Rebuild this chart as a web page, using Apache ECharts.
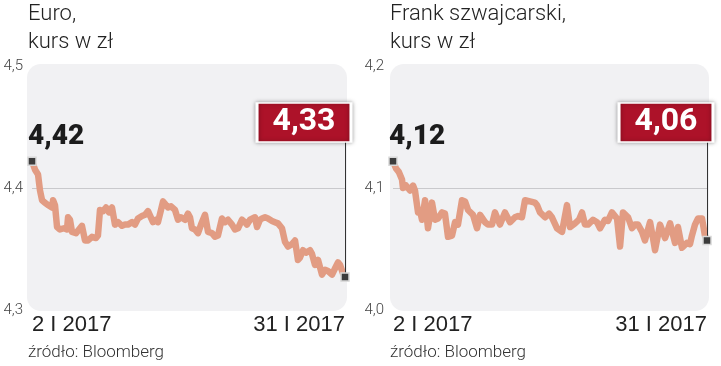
<!DOCTYPE html>
<html><head><meta charset="utf-8">
<script src="https://cdn.jsdelivr.net/npm/echarts@6/dist/echarts.min.js"></script>
<style>html,body{margin:0;padding:0;background:#fff}#c{width:721px;height:366px}</style>
</head><body><div id="c"></div>
<script>
const titles = ['Euro,\nkurs w zł', 'Frank szwajcarski,\nkurs w zł'];
const sourceText = 'źródło: Bloomberg';
const xLabels = ['2 I 2017', '31 I 2017'];
const dayRange = [2, 31];
const eurYRange = [4.3, 4.5];
const chfYRange = [4.0, 4.2];
const yInterval = 0.1;

const eurDays = [2.00,2.28,2.56,2.74,2.93,3.20,3.48,3.85,3.95,4.13,4.32,4.59,4.96,5.24,5.34,5.52,5.71,6.08,6.26,6.63,6.91,7.19,7.56,7.93,8.11,8.30,8.58,8.86,9.13,9.41,9.50,9.69,9.97,10.34,10.62,10.89,11.27,11.54,11.82,12.19,12.47,12.75,12.93,13.21,13.49,13.67,13.95,14.14,14.32,14.60,14.88,15.25,15.53,15.80,16.18,16.45,16.64,16.82,17.10,17.38,17.66,18.03,18.31,18.68,18.95,19.23,19.60,19.88,20.16,20.53,20.81,21.09,21.46,21.73,21.92,22.20,22.38,22.66,22.85,23.12,23.31,23.59,23.87,24.24,24.51,24.79,25.16,25.44,25.72,26.09,26.37,26.64,26.83,27.11,27.39,27.76,27.94,28.22,28.50,28.87,29.15,29.42,29.80,30.07,30.35,30.54,30.81,31.00];
const eurVals = [4.422,4.415,4.411,4.398,4.390,4.388,4.386,4.384,4.390,4.386,4.368,4.366,4.367,4.366,4.376,4.374,4.364,4.363,4.365,4.369,4.357,4.357,4.360,4.359,4.361,4.382,4.381,4.384,4.380,4.384,4.385,4.370,4.372,4.369,4.370,4.370,4.372,4.370,4.375,4.377,4.378,4.381,4.380,4.372,4.374,4.372,4.382,4.389,4.387,4.384,4.385,4.382,4.374,4.376,4.374,4.379,4.376,4.367,4.366,4.363,4.370,4.378,4.364,4.363,4.360,4.361,4.375,4.372,4.374,4.370,4.366,4.367,4.374,4.372,4.370,4.374,4.375,4.376,4.368,4.374,4.375,4.376,4.375,4.373,4.372,4.371,4.367,4.356,4.352,4.354,4.357,4.341,4.343,4.349,4.347,4.349,4.346,4.337,4.341,4.329,4.333,4.332,4.329,4.334,4.339,4.337,4.330,4.327];

const chfDays = [2.00,2.28,2.55,2.83,2.92,3.20,3.57,3.85,4.03,4.31,4.49,4.68,4.96,5.23,5.60,5.88,6.16,6.53,6.80,7.08,7.26,7.45,7.73,8.00,8.37,8.65,8.93,9.39,9.76,10.04,10.50,10.77,11.14,11.42,11.88,12.34,12.81,13.27,13.55,13.91,14.19,14.65,15.11,15.30,15.58,16.04,16.41,16.68,17.15,17.61,18.07,18.35,18.81,19.18,19.46,19.73,20.01,20.47,20.84,21.12,21.58,21.86,22.22,22.69,22.97,23.24,23.71,24.07,24.35,24.63,25.00,25.27,25.74,26.01,26.20,26.66,27.13,27.59,28.05,28.32,28.69,29.15,29.43,29.61,29.89,30.17,30.54,30.81,31.00];
const chfVals = [4.122,4.116,4.113,4.107,4.100,4.102,4.098,4.102,4.098,4.080,4.082,4.074,4.090,4.067,4.088,4.074,4.075,4.080,4.079,4.060,4.061,4.061,4.072,4.070,4.090,4.089,4.082,4.078,4.067,4.078,4.072,4.070,4.070,4.080,4.070,4.080,4.072,4.076,4.077,4.076,4.090,4.089,4.088,4.086,4.080,4.076,4.079,4.076,4.067,4.064,4.086,4.068,4.071,4.074,4.080,4.070,4.070,4.074,4.072,4.067,4.074,4.073,4.080,4.075,4.052,4.080,4.076,4.067,4.070,4.070,4.064,4.057,4.072,4.059,4.049,4.070,4.059,4.071,4.055,4.068,4.051,4.055,4.054,4.061,4.070,4.075,4.075,4.061,4.057];

// callout box levels (axis units): centre and bottom of the value box
const eurCallout = {center: 4.4537, bottom: 4.4377};
const chfCallout = {center: 4.1537, bottom: 4.1377};

const fmt2 = v => v.toFixed(2).replace('.', ',');
const fmt1 = v => v.toFixed(1).replace('.', ',');
const lineColor = '#e29c83';
const lightFont = 'Roboto';
const numFont = 'Roboto';

function makeSeries(idx, days, vals, callout) {
  const n = vals.length;
  const data = days.map((d, i) => [d, vals[i]]);
  return {
    type: 'line', xAxisIndex: idx, yAxisIndex: idx, data,
    symbol: 'none', smooth: false, animation: false,
    lineStyle: {color: lineColor, width: 6.5, join: 'round', cap: 'round'},
    z: 3,
    markLine: {
      silent: true, symbol: 'none', animation: false,
      lineStyle: {color: '#333', width: 1, type: 'solid'},
      label: {show: false},
      data: [[{coord: [days[n-1], vals[n-1]]}, {coord: [days[n-1], callout.bottom]}]]
    },
    markPoint: {
      silent: true, animation: false,
      data: [
        {coord: [days[0], vals[0]], value: vals[0], symbol: 'rect', symbolSize: 8,
         itemStyle: {color: '#3c3c3c', borderColor: '#d8d8d8', borderWidth: 1.5},
         label: {show: true, position: 'top', align: 'left', offset: [-4, 0],
                 formatter: p => fmt2(p.value), fontFamily: numFont, fontWeight: 900,
                 fontSize: 28, color: '#1c1c1c'}},
        {coord: [days[n-1], vals[n-1]], symbol: 'rect', symbolSize: 8,
         itemStyle: {color: '#3c3c3c', borderColor: '#d8d8d8', borderWidth: 1.5},
         label: {show: false}},
        {coord: [days[n-1], callout.center], value: vals[n-1], symbol: 'rect',
         symbolSize: [94, 39], symbolOffset: [-41, 0],
         itemStyle: {color: '#ad1229', borderColor: '#ffffff', borderWidth: 2,
                     shadowBlur: 4, shadowColor: 'rgba(0,0,0,0.35)'},
         label: {show: true, position: 'inside', formatter: p => fmt2(p.value),
                 fontFamily: numFont, fontWeight: 'bold', fontSize: 32, color: '#fff'}}
      ]
    }
  };
}

function makeX(idx) {
  return {
    type: 'value', gridIndex: idx, min: dayRange[0], max: dayRange[1],
    axisLine: {show: false}, axisTick: {show: false}, splitLine: {show: false},
    axisLabel: {
      showMinLabel: true, showMaxLabel: true, alignMinLabel: 'left', alignMaxLabel: 'right',
      margin: 4, fontFamily: 'Liberation Sans', fontSize: 22, color: '#222',
      formatter: v => v === dayRange[0] ? xLabels[0] : (v === dayRange[1] ? xLabels[1] : '')
    }
  };
}
function makeY(idx, range) {
  return {
    type: 'value', gridIndex: idx, min: range[0], max: range[1], interval: yInterval,
    axisLine: {show: false}, axisTick: {show: false},
    splitLine: {show: true, lineStyle: {color: ['rgba(0,0,0,0)', '#c9c9cc', 'rgba(0,0,0,0)'], width: 1}},
    axisLabel: {margin: 9, fontFamily: lightFont, fontWeight: 300, fontSize: 15, color: '#444',
                formatter: v => fmt1(v)}
  };
}

const chart = echarts.init(document.getElementById('c'), null, {renderer: 'canvas'});
chart.setOption({
  backgroundColor: '#fff',
  animation: false,
  title: [
    {text: titles[0], left: 28, top: 0, padding: 0,
     textStyle: {fontFamily: lightFont, fontWeight: 300, fontSize: 22, lineHeight: 28, color: '#222'}},
    {text: titles[1], left: 390, top: 0, padding: 0,
     textStyle: {fontFamily: lightFont, fontWeight: 300, fontSize: 22, lineHeight: 28, color: '#222'}},
    {text: sourceText, left: 28, top: 344, padding: 0,
     textStyle: {fontFamily: lightFont, fontWeight: 300, fontSize: 17, color: '#333'}},
    {text: sourceText, left: 390, top: 344, padding: 0,
     textStyle: {fontFamily: lightFont, fontWeight: 300, fontSize: 17, color: '#333'}}
  ],
  graphic: [
    {type: 'rect', z: -100, shape: {x: 27, y: 64, width: 320, height: 247, r: 14},
     style: {fill: '#f1f1f3'}},
    {type: 'rect', z: -100, shape: {x: 390, y: 64, width: 319, height: 247, r: 14},
     style: {fill: '#f1f1f3'}}
  ],
  grid: [
    {left: 32, top: 66, width: 313, height: 244},
    {left: 393, top: 66, width: 314, height: 244}
  ],
  xAxis: [makeX(0), makeX(1)],
  yAxis: [makeY(0, eurYRange), makeY(1, chfYRange)],
  series: [
    makeSeries(0, eurDays, eurVals, eurCallout),
    makeSeries(1, chfDays, chfVals, chfCallout)
  ]
});
</script>
</body></html>
